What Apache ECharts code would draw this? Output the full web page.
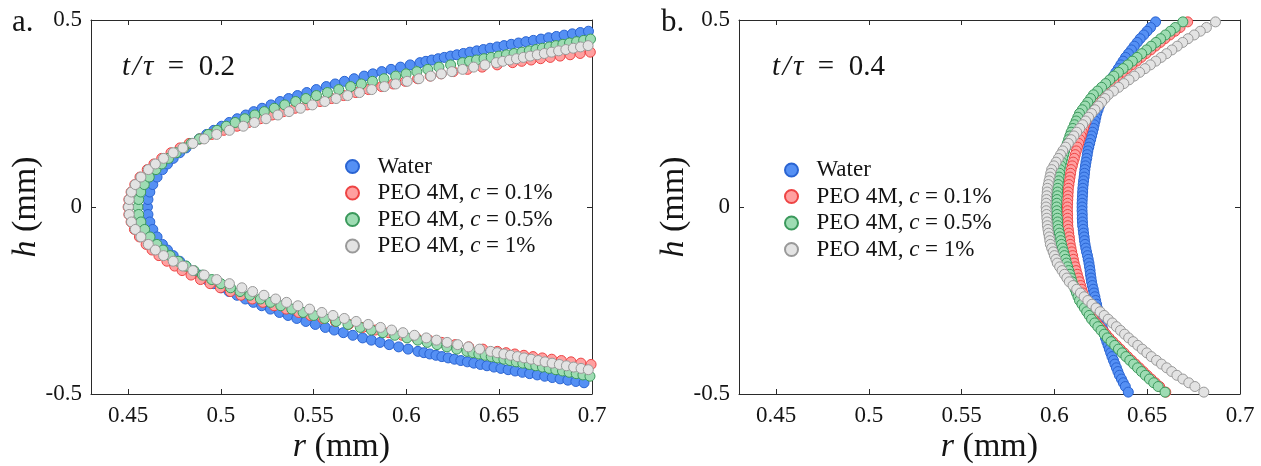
<!DOCTYPE html>
<html>
<head>
<meta charset="utf-8">
<script src="https://cdn.jsdelivr.net/npm/echarts@6/dist/echarts.min.js"></script>
<style>
  html, body { margin: 0; padding: 0; background: #ffffff; }
  #chart { width: 1261px; height: 466px; }
</style>
</head>
<body>
<div id="chart"></div>
<script>
// ---- Panel a (t/tau = 0.2): drop profile, h sampled along each arm, r read per series ----
const H_A_UP = [0, 0.02, 0.04, 0.06, 0.08, 0.1, 0.115, 0.13, 0.145, 0.158, 0.17, 0.182, 0.194, 0.205, 0.216, 0.226, 0.236, 0.246, 0.255, 0.264, 0.273, 0.282, 0.29, 0.298, 0.306, 0.314, 0.322, 0.329, 0.336, 0.343, 0.35, 0.356, 0.362, 0.368, 0.374, 0.38,
  0.386, 0.3895, 0.393, 0.3965, 0.4, 0.4035, 0.407, 0.4105, 0.414, 0.4175, 0.421, 0.4245, 0.428, 0.4315, 0.435, 0.4385, 0.442, 0.4455, 0.449, 0.4525, 0.456, 0.4595, 0.463, 0.4665, 0.47, 0.4735, 0.477];
const H_A_LO = [-0.02, -0.04, -0.06, -0.08, -0.1, -0.115, -0.13, -0.145, -0.158, -0.17, -0.182, -0.194, -0.205, -0.216, -0.226, -0.236, -0.246, -0.255, -0.264, -0.273, -0.282, -0.29, -0.298, -0.306, -0.314, -0.322, -0.329, -0.336, -0.343, -0.35, -0.356, -0.362, -0.368, -0.374, -0.38,
  -0.386, -0.3895, -0.393, -0.3965, -0.4, -0.4035, -0.407, -0.4105, -0.414, -0.4175, -0.421, -0.4245, -0.428, -0.4315, -0.435, -0.4385, -0.442, -0.4455, -0.449, -0.4525, -0.456, -0.4595, -0.463, -0.4665, -0.47, -0.4735, -0.477];

const WATER_A_UP = [0.4604, 0.4607, 0.4617, 0.4633, 0.4656, 0.4685, 0.4712, 0.4743, 0.4778, 0.4812, 0.4846, 0.4883, 0.4923, 0.4962, 0.5004, 0.5045, 0.5088, 0.5134, 0.5177, 0.5222, 0.5270, 0.5319, 0.5365, 0.5413, 0.5463, 0.5514, 0.5568, 0.5616, 0.5666, 0.5718, 0.5772, 0.5819, 0.5867, 0.5917, 0.5968, 0.6020,
  0.6073, 0.6105, 0.6137, 0.6171, 0.6204, 0.6238, 0.6272, 0.6307, 0.6342, 0.6379, 0.6415, 0.6451, 0.6489, 0.6526, 0.6565, 0.6604, 0.6644, 0.6684, 0.6725, 0.6766, 0.6808, 0.6850, 0.6894, 0.6937, 0.6981];
const WATER_A_LO = [0.4607, 0.4617, 0.4633, 0.4656, 0.4685, 0.4712, 0.4743, 0.4778, 0.4812, 0.4845, 0.4882, 0.4922, 0.4961, 0.5003, 0.5044, 0.5087, 0.5132, 0.5175, 0.5220, 0.5267, 0.5316, 0.5362, 0.5409, 0.5458, 0.5509, 0.5563, 0.5611, 0.5660, 0.5711, 0.5764, 0.5811, 0.5858, 0.5907, 0.5958, 0.6009,
  0.6062, 0.6094, 0.6126, 0.6159, 0.6191, 0.6225, 0.6259, 0.6293, 0.6328, 0.6363, 0.6399, 0.6434, 0.6472, 0.6509, 0.6548, 0.6586, 0.6625, 0.6664, 0.6705, 0.6745, 0.6786, 0.6828, 0.6870, 0.6913, 0.6957];

const PEO01_A_UP = [0.4500, 0.4504, 0.4516, 0.4536, 0.4564, 0.4603, 0.4639, 0.4681, 0.4731, 0.4780, 0.4829, 0.4887, 0.4951, 0.5016, 0.5087, 0.5150, 0.5212, 0.5276, 0.5337, 0.5400, 0.5466, 0.5534, 0.5596, 0.5661, 0.5727, 0.5795, 0.5866, 0.5929, 0.5994, 0.6060, 0.6128, 0.6187, 0.6252, 0.6329, 0.6408, 0.6489,
  0.6572, 0.6621, 0.6672, 0.6723, 0.6775, 0.6828, 0.6882, 0.6936, 0.6991];
const PEO01_A_LO = [0.4504, 0.4516, 0.4534, 0.4561, 0.4597, 0.4629, 0.4666, 0.4709, 0.4751, 0.4791, 0.4839, 0.4890, 0.4942, 0.4997, 0.5051, 0.5108, 0.5169, 0.5226, 0.5287, 0.5352, 0.5419, 0.5483, 0.5549, 0.5617, 0.5689, 0.5765, 0.5833, 0.5904, 0.5977, 0.6053, 0.6121, 0.6190, 0.6262, 0.6336, 0.6412,
  0.6490, 0.6537, 0.6584, 0.6633, 0.6682, 0.6732, 0.6783, 0.6835, 0.6887, 0.6940, 0.6995];

const PEO05_A_UP = [0.4553, 0.4557, 0.4568, 0.4587, 0.4614, 0.4650, 0.4681, 0.4718, 0.4759, 0.4800, 0.4840, 0.4884, 0.4932, 0.4979, 0.5029, 0.5077, 0.5129, 0.5183, 0.5234, 0.5288, 0.5344, 0.5403, 0.5458, 0.5515, 0.5574, 0.5635, 0.5699, 0.5757, 0.5817, 0.5879, 0.5942, 0.5998, 0.6056, 0.6115, 0.6175, 0.6238,
  0.6302, 0.6340, 0.6378, 0.6418, 0.6457, 0.6498, 0.6539, 0.6580, 0.6622, 0.6662, 0.6698, 0.6733, 0.6770, 0.6806, 0.6843, 0.6879, 0.6917, 0.6955, 0.6992];
const PEO05_A_LO = [0.4557, 0.4569, 0.4589, 0.4618, 0.4655, 0.4688, 0.4726, 0.4770, 0.4812, 0.4855, 0.4901, 0.4951, 0.5000, 0.5052, 0.5103, 0.5156, 0.5213, 0.5267, 0.5323, 0.5382, 0.5443, 0.5500, 0.5559, 0.5621, 0.5685, 0.5751, 0.5811, 0.5873, 0.5937, 0.6003, 0.6061, 0.6112, 0.6165, 0.6218, 0.6271,
  0.6326, 0.6358, 0.6390, 0.6424, 0.6457, 0.6491, 0.6525, 0.6558, 0.6592, 0.6627, 0.6662, 0.6697, 0.6733, 0.6769, 0.6805, 0.6841, 0.6877, 0.6915, 0.6951, 0.6989];

const PEO1_A_UP = [0.4502, 0.4506, 0.4518, 0.4539, 0.4569, 0.4609, 0.4647, 0.4691, 0.4743, 0.4795, 0.4849, 0.4910, 0.4977, 0.5046, 0.5121, 0.5181, 0.5243, 0.5307, 0.5367, 0.5429, 0.5493, 0.5560, 0.5621, 0.5683, 0.5747, 0.5813, 0.5881, 0.5942, 0.6004, 0.6067, 0.6131, 0.6188, 0.6245, 0.6303, 0.6362, 0.6423,
  0.6484, 0.6519, 0.6556, 0.6593, 0.6630, 0.6667, 0.6705, 0.6743, 0.6782, 0.6820, 0.6859, 0.6899, 0.6938, 0.6979];
const PEO1_A_LO = [0.4506, 0.4518, 0.4539, 0.4569, 0.4609, 0.4647, 0.4691, 0.4743, 0.4795, 0.4849, 0.4910, 0.4977, 0.5046, 0.5113, 0.5171, 0.5232, 0.5295, 0.5354, 0.5415, 0.5478, 0.5544, 0.5604, 0.5665, 0.5729, 0.5794, 0.5860, 0.5920, 0.5981, 0.6043, 0.6107, 0.6162, 0.6219, 0.6276, 0.6334, 0.6394,
  0.6454, 0.6489, 0.6525, 0.6561, 0.6598, 0.6634, 0.6672, 0.6710, 0.6747, 0.6785, 0.6824, 0.6862, 0.6901, 0.6941, 0.6980];

// ---- Panel b (t/tau = 0.4): profile sampled in h from top to bottom ----
const H_B = [0.495, 0.48, 0.47, 0.46, 0.45, 0.44, 0.43, 0.42, 0.41, 0.4, 0.39, 0.38, 0.37, 0.36, 0.35, 0.34, 0.33, 0.32, 0.31, 0.3, 0.29, 0.28, 0.27, 0.26, 0.25, 0.24, 0.23, 0.22, 0.21, 0.2, 0.19, 0.18, 0.17, 0.16, 0.15, 0.14, 0.13, 0.12, 0.11, 0.1, 0.09, 0.08, 0.07, 0.06, 0.05, 0.04, 0.03, 0.02, 0.01, 0, -0.01, -0.02, -0.03, -0.04, -0.05, -0.06, -0.07, -0.08, -0.09, -0.1, -0.11, -0.12, -0.13, -0.14, -0.15, -0.16, -0.17, -0.18, -0.19, -0.2, -0.21, -0.22, -0.23, -0.24, -0.25, -0.26, -0.27, -0.28, -0.29, -0.3, -0.31, -0.32, -0.33, -0.34, -0.35, -0.36, -0.37, -0.38, -0.39, -0.4, -0.41, -0.42, -0.43, -0.44, -0.45, -0.46, -0.47, -0.48, -0.495];

const WATER_B = [0.6545, 0.6518, 0.6499, 0.6481, 0.6462, 0.6446, 0.6430, 0.6415, 0.6399, 0.6383, 0.6370, 0.6357, 0.6344, 0.6331, 0.6318, 0.6307, 0.6296, 0.6284, 0.6273, 0.6262, 0.6255, 0.6248, 0.6242, 0.6235, 0.6228, 0.6223, 0.6219, 0.6214, 0.6210, 0.6205, 0.6200, 0.6195, 0.6190, 0.6185, 0.6180, 0.6177, 0.6174, 0.6170, 0.6167, 0.6164, 0.6162, 0.6160, 0.6157, 0.6155, 0.6153, 0.6152, 0.6151, 0.6150, 0.6149, 0.6149,
  0.6149, 0.6150, 0.6150, 0.6151, 0.6152, 0.6155, 0.6157, 0.6160, 0.6162, 0.6165, 0.6169, 0.6173, 0.6178, 0.6182, 0.6186, 0.6189, 0.6192, 0.6194, 0.6197, 0.6200, 0.6204, 0.6209, 0.6213, 0.6218, 0.6222, 0.6227, 0.6231, 0.6236, 0.6240, 0.6245, 0.6251, 0.6257, 0.6263, 0.6269, 0.6275, 0.6282, 0.6289, 0.6296, 0.6303, 0.6310, 0.6318, 0.6326, 0.6334, 0.6342, 0.6350, 0.6361, 0.6371, 0.6382, 0.6398];
const PEO01_B = [0.6718, 0.6677, 0.6650, 0.6622, 0.6595, 0.6570, 0.6544, 0.6519, 0.6493, 0.6468, 0.6443, 0.6417, 0.6391, 0.6366, 0.6340, 0.6320, 0.6300, 0.6280, 0.6260, 0.6240, 0.6229, 0.6218, 0.6207, 0.6196, 0.6185, 0.6178, 0.6171, 0.6164, 0.6157, 0.6150, 0.6144, 0.6137, 0.6131, 0.6124, 0.6118, 0.6112, 0.6107, 0.6101, 0.6096, 0.6090, 0.6087, 0.6084, 0.6081, 0.6078, 0.6075, 0.6074, 0.6073, 0.6072, 0.6071, 0.6070,
  0.6070, 0.6071, 0.6071, 0.6072, 0.6072, 0.6075, 0.6077, 0.6080, 0.6082, 0.6085, 0.6089, 0.6093, 0.6098, 0.6102, 0.6106, 0.6112, 0.6117, 0.6123, 0.6129, 0.6135, 0.6141, 0.6147, 0.6153, 0.6159, 0.6165, 0.6174, 0.6183, 0.6192, 0.6201, 0.6210, 0.6227, 0.6244, 0.6261, 0.6278, 0.6295, 0.6315, 0.6335, 0.6355, 0.6375, 0.6395, 0.6416, 0.6437, 0.6458, 0.6479, 0.6500, 0.6522, 0.6544, 0.6567, 0.6600];
const PEO05_B = [0.6692, 0.6651, 0.6625, 0.6598, 0.6572, 0.6547, 0.6521, 0.6496, 0.6470, 0.6445, 0.6420, 0.6395, 0.6370, 0.6345, 0.6320, 0.6298, 0.6276, 0.6254, 0.6232, 0.6210, 0.6195, 0.6180, 0.6165, 0.6150, 0.6135, 0.6126, 0.6117, 0.6108, 0.6099, 0.6090, 0.6083, 0.6076, 0.6069, 0.6062, 0.6055, 0.6050, 0.6045, 0.6040, 0.6035, 0.6030, 0.6028, 0.6025, 0.6023, 0.6020, 0.6018, 0.6017, 0.6016, 0.6014, 0.6013, 0.6012,
  0.6013, 0.6014, 0.6016, 0.6017, 0.6018, 0.6022, 0.6026, 0.6030, 0.6034, 0.6038, 0.6043, 0.6049, 0.6054, 0.6060, 0.6065, 0.6071, 0.6077, 0.6083, 0.6089, 0.6095, 0.6103, 0.6111, 0.6119, 0.6127, 0.6135, 0.6148, 0.6161, 0.6174, 0.6187, 0.6200, 0.6217, 0.6234, 0.6251, 0.6268, 0.6285, 0.6305, 0.6325, 0.6345, 0.6365, 0.6385, 0.6406, 0.6427, 0.6448, 0.6469, 0.6490, 0.6512, 0.6535, 0.6559, 0.6596];
const PEO1_B = [0.6868, 0.6819, 0.6786, 0.6753, 0.6720, 0.6691, 0.6662, 0.6633, 0.6604, 0.6575, 0.6546, 0.6517, 0.6488, 0.6459, 0.6430, 0.6402, 0.6374, 0.6346, 0.6318, 0.6290, 0.6272, 0.6254, 0.6236, 0.6218, 0.6200, 0.6184, 0.6168, 0.6152, 0.6136, 0.6120, 0.6105, 0.6090, 0.6075, 0.6060, 0.6045, 0.6033, 0.6021, 0.6009, 0.5997, 0.5985, 0.5980, 0.5976, 0.5971, 0.5967, 0.5962, 0.5961, 0.5959, 0.5958, 0.5956, 0.5955,
  0.5956, 0.5958, 0.5959, 0.5961, 0.5962, 0.5965, 0.5968, 0.5972, 0.5975, 0.5978, 0.5985, 0.5993, 0.6000, 0.6008, 0.6015, 0.6028, 0.6041, 0.6054, 0.6067, 0.6080, 0.6100, 0.6120, 0.6140, 0.6160, 0.6180, 0.6202, 0.6224, 0.6246, 0.6268, 0.6290, 0.6312, 0.6334, 0.6356, 0.6378, 0.6400, 0.6424, 0.6449, 0.6473, 0.6498, 0.6522, 0.6550, 0.6577, 0.6605, 0.6632, 0.6660, 0.6692, 0.6724, 0.6757, 0.6805];

// ---- Labels and ticks ----
const SERIES_NAMES = ['Water', 'PEO 4M, c = 0.1%', 'PEO 4M, c = 0.5%', 'PEO 4M, c = 1%'];
const X_TICKS = [0.45, 0.5, 0.55, 0.6, 0.65, 0.7];
const PANEL_LABELS = ['a.', 'b.'];
const TIME_LABELS = ['0.2', '0.4'];

const FONT = "'Liberation Serif', 'DejaVu Serif', serif";
const INK = '#141414';
const AXIS_INK = '#2a2a2a';
const MARKERS = [
  { color: '#5590f4', borderColor: '#2a64d2' },
  { color: '#ffa0a0', borderColor: '#ee4444' },
  { color: '#9edcb3', borderColor: '#3b995c' },
  { color: '#e3e3e3', borderColor: '#999999' }
];

function pairs(rs, hs) { return rs.map(function (r, i) { return [r, hs[i]]; }); }

const PANEL_A = [
  pairs(WATER_A_UP, H_A_UP).concat(pairs(WATER_A_LO, H_A_LO)),
  pairs(PEO01_A_UP, H_A_UP).concat(pairs(PEO01_A_LO, H_A_LO)),
  pairs(PEO05_A_UP, H_A_UP).concat(pairs(PEO05_A_LO, H_A_LO)),
  pairs(PEO1_A_UP, H_A_UP).concat(pairs(PEO1_A_LO, H_A_LO))
];
const PANEL_B = [
  pairs(WATER_B, H_B), pairs(PEO01_B, H_B), pairs(PEO05_B, H_B), pairs(PEO1_B, H_B)
];

const GRIDS = [
  { left: 91, top: 20, width: 501, height: 374 },
  { left: 739, top: 20, width: 501, height: 374 }
];

const italic = { fontStyle: 'italic', fontFamily: FONT };

function xAxesFor(g) {
  const common = {
    type: 'value', gridIndex: g, min: 0.43, max: 0.7,
    splitLine: { show: false },
    axisLine: { show: true, onZero: false, lineStyle: { color: AXIS_INK, width: 1 } },
    axisTick: { show: true, inside: true, length: 5, customValues: X_TICKS, lineStyle: { color: AXIS_INK, width: 1 } }
  };
  return [
    Object.assign({}, common, {
      position: 'bottom',
      axisLabel: { show: true, customValues: X_TICKS, fontFamily: FONT, fontSize: 23, color: INK, margin: 10 },
      name: '{i|r} (mm)', nameLocation: 'middle', nameGap: 36, nameMoveOverlap: false,
      nameTextStyle: { fontFamily: FONT, fontSize: 34, color: INK, rich: { i: Object.assign({ fontSize: 34, color: INK }, italic) } }
    }),
    Object.assign({}, common, { position: 'top', axisLabel: { show: false } })
  ];
}

function yAxesFor(g) {
  const common = {
    type: 'value', gridIndex: g, min: -0.5, max: 0.5, interval: 0.5,
    splitLine: { show: false },
    axisLine: { show: true, onZero: false, lineStyle: { color: AXIS_INK, width: 1 } },
    axisTick: { show: true, inside: true, length: 5, lineStyle: { color: AXIS_INK, width: 1 } }
  };
  return [
    Object.assign({}, common, {
      position: 'left',
      axisLabel: { show: true, fontFamily: FONT, fontSize: 23, color: INK, margin: 9 },
      name: '{i|h} (mm)', nameLocation: 'middle', nameGap: 48, nameMoveOverlap: false,
      nameTextStyle: { fontFamily: FONT, fontSize: 34, color: INK, rich: { i: Object.assign({ fontSize: 34, color: INK }, italic) } }
    }),
    Object.assign({}, common, { position: 'right', axisLabel: { show: false } })
  ];
}

function seriesFor(panelData, g) {
  return panelData.map(function (data, k) {
    return {
      type: 'scatter', name: SERIES_NAMES[k],
      xAxisIndex: g * 2, yAxisIndex: g * 2,
      data: data, symbol: 'circle', symbolSize: 10, clip: false, silent: true,
      itemStyle: { color: MARKERS[k].color, borderColor: MARKERS[k].borderColor, borderWidth: 1, opacity: 1 },
      z: 2 + k
    };
  });
}

function legendAt(left, top) {
  return {
    orient: 'vertical', left: left, top: top, padding: 0,
    itemWidth: 40, itemHeight: 13, itemGap: 3.5, icon: 'circle', selectedMode: false,
    data: SERIES_NAMES,
    formatter: function (n) { return n.replace(', c =', ', {i|c} ='); },
    textStyle: { fontFamily: FONT, fontSize: 23, color: INK, lineHeight: 23,
      rich: { i: Object.assign({ fontSize: 23, color: INK, lineHeight: 23 }, italic) } }
  };
}

function textEl(x, y, text, size) {
  return {
    type: 'text', x: x, y: y, silent: true,
    style: { text: text, fontFamily: FONT, fontSize: size, fill: INK, align: 'left', verticalAlign: 'middle',
      rich: { i: Object.assign({ fontSize: size, fill: INK }, italic) } }
  };
}

const chart = echarts.init(document.getElementById('chart'), null, { renderer: 'canvas' });
chart.setOption({
  animation: false,
  backgroundColor: '#ffffff',
  grid: GRIDS.map(function (g) { return Object.assign({ containLabel: false, outerBoundsMode: 'none' }, g); }),
  xAxis: xAxesFor(0).concat(xAxesFor(1)),
  yAxis: yAxesFor(0).concat(yAxesFor(1)),
  legend: [legendAt(345, 155), legendAt(784, 158.5)],
  series: seriesFor(PANEL_A, 0).concat(seriesFor(PANEL_B, 1)),
  graphic: [
    textEl(12, 23, PANEL_LABELS[0], 31),
    textEl(661, 23, PANEL_LABELS[1], 31),
    textEl(122, 67, '{i|t\u200a/\u200aτ}  =  ' + TIME_LABELS[0], 29),
    textEl(772, 67, '{i|t\u200a/\u200aτ}  =  ' + TIME_LABELS[1], 29)
  ]
});
</script>
</body>
</html>
